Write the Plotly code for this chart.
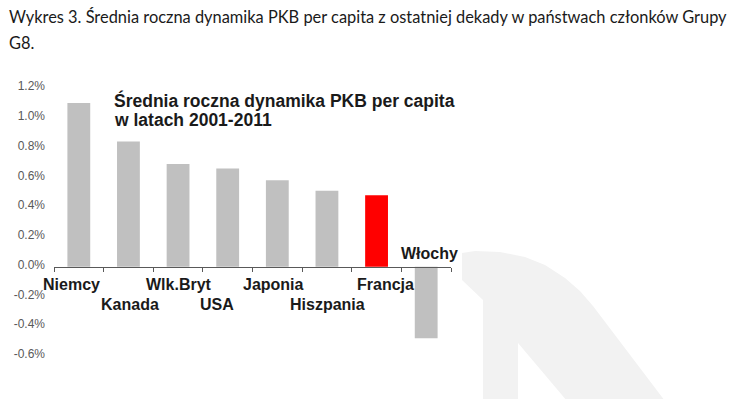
import plotly.graph_objects as go

# ---- data ----
countries = ["Niemcy", "Kanada", "Wlk.Bryt", "USA", "Japonia", "Hiszpania", "Francja", "Włochy"]
growth_pct = [1.10, 0.84, 0.69, 0.66, 0.58, 0.51, 0.48, -0.48]
y_tick_values = [-0.6, -0.4, -0.2, 0.0, 0.2, 0.4, 0.6, 0.8, 1.0, 1.2]
y_tick_labels = ["-0.6%", "-0.4%", "-0.2%", "0.0%", "0.2%", "0.4%", "0.6%", "0.8%", "1.0%", "1.2%"]
caption_lines = [
    "Wykres 3. Średnia roczna dynamika PKB per capita z ostatniej dekady w państwach członków Grupy",
    "G8.",
]
chart_title_lines = ["Średnia roczna dynamika PKB per capita", "w latach 2001-2011"]
highlight_country = "Francja"

# ---- layout geometry (pixels) ----
W, H = 736, 399
L, R, T, B = 54, 285, 88, 43
PW, PH = W - L - R, H - T - B


def px_x(x):
    return (x - L) / PW


def px_y(y):
    return (H - B - y) / PH


GRAY = "#c0c0c0"
RED = "#ff0000"
bar_colors = [RED if c == highlight_country else GRAY for c in countries]

fig = go.Figure()
fig.add_trace(go.Bar(
    x=countries, y=growth_pct, width=0.46,
    marker=dict(color=bar_colors, line=dict(width=0)),
    hoverinfo="skip",
))

# label rows: 1 = first row under axis, 2 = second row, 0 = above axis
label_row = {"Niemcy": 1, "Kanada": 2, "Wlk.Bryt": 1, "USA": 2, "Japonia": 1,
             "Hiszpania": 2, "Francja": 1, "Włochy": 0}
label_dx = {"Niemcy": -7, "Kanada": 2, "Wlk.Bryt": 1, "USA": -11, "Japonia": -4,
            "Hiszpania": 1, "Francja": 9, "Włochy": 3}
row_shift = {0: 13, 1: -18, 2: -38}

annotations = []
for c in countries:
    annotations.append(dict(
        x=c, y=0, xref="x", yref="y", text=c, showarrow=False,
        xanchor="center", yanchor="middle",
        xshift=label_dx[c], yshift=row_shift[label_row[c]],
        font=dict(family="Arial, Liberation Sans", size=16, color="#1a1a1a", weight="bold"),
    ))

# chart title inside
for i, line in enumerate(chart_title_lines):
    annotations.append(dict(
        x=px_x(112), y=px_y(100 + 20 * i), xref="paper", yref="paper", text=line,
        showarrow=False, xanchor="left", yanchor="middle",
        font=dict(family="Arial, Liberation Sans", size=17.5, color="#1a1a1a", weight="bold"),
    ))

# caption above
for i, line in enumerate(caption_lines):
    annotations.append(dict(
        x=px_x(7), y=px_y(17 + 25 * i), xref="paper", yref="paper", text=line,
        showarrow=False, xanchor="left", yanchor="middle",
        font=dict(family="Lato", size=16.4, color="#1a1a1a"),
    ))

# faint watermark in the lower right
wm_pts = [(462, 253), (475, 251), (500, 252), (525, 257), (545, 265), (565, 278),
          (580, 291), (593, 306), (665, 401), (567, 401), (518, 343), (518, 401),
          (483, 401), (483, 300), (462, 280)]
path = "M " + " L ".join(f"{px_x(x):.4f},{px_y(y):.4f}" for x, y in wm_pts) + " Z"
shapes = [dict(type="path", path=path, xref="paper", yref="paper",
               fillcolor="#f2f2f2", line=dict(width=0), layer="below")]

fig.update_layout(
    width=W, height=H,
    margin=dict(l=L, r=R, t=T, b=B, pad=0),
    paper_bgcolor="white", plot_bgcolor="rgba(0,0,0,0)",
    showlegend=False,
    annotations=annotations,
    shapes=shapes,
    xaxis=dict(
        type="category", range=[-0.5, 7.5], showticklabels=False,
        showline=True, linecolor="#595959", linewidth=1,
        ticks="outside", ticklen=4, tickcolor="#595959", tickwidth=1,
        tickson="boundaries", showgrid=False, zeroline=False,
        anchor="free", position=0.6 / 1.8,
    ),
    yaxis=dict(
        range=[-0.6, 1.2], tickvals=y_tick_values, ticktext=y_tick_labels,
        showgrid=False, zeroline=False, showline=False, ticks="",
        tickfont=dict(family="Arial, Liberation Sans", size=12, color="#595959"),
        ticklabelstandoff=8, ticklabelshift=-2,
    ),
)

fig.write_html(
    "out.html",
    config={"displayModeBar": False, "staticPlot": True},
    post_script="document.body.style.margin='0';document.body.style.overflow='hidden';",
)
